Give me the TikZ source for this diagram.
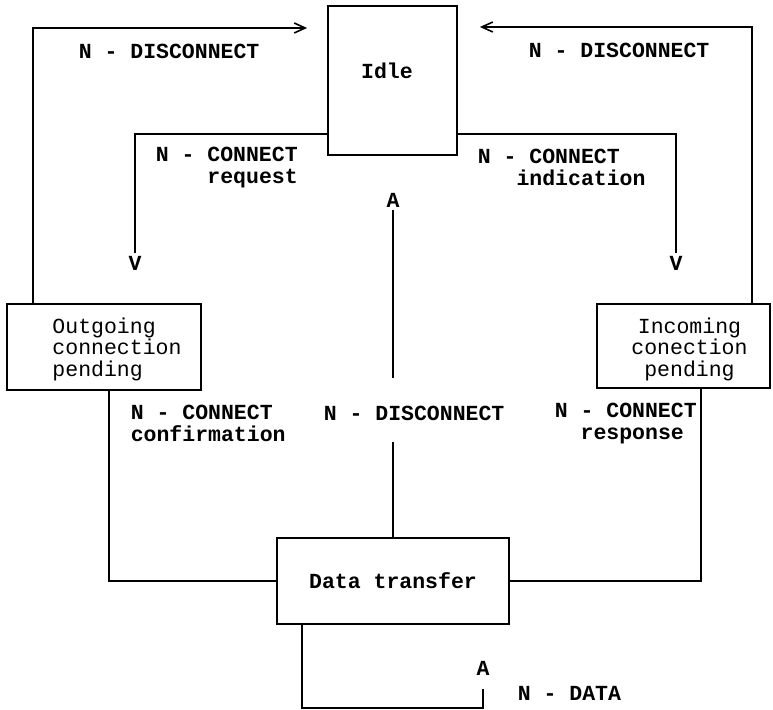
\documentclass[tikz,border=0pt]{standalone}
\usepackage{fontspec}
\setmonofont{Liberation Mono}
\usepackage{tikz}
\usetikzlibrary{arrows.meta,positioning,calc}

\begin{document}
\begin{tikzpicture}[x=0.5pt,y=-0.5pt,line width=0.8pt,
  font=\ttfamily\fontsize{10.75pt}{10.75pt}\selectfont,
  statebox/.style={draw,line width=0.9pt,inner sep=0pt},
  msg/.style={font=\ttfamily\bfseries\fontsize{10.75pt}{10.75pt}\selectfont,inner sep=0pt,align=left},
  head/.style={font=\ttfamily\bfseries\fontsize{10.75pt}{10.75pt}\selectfont,inner sep=1pt},
  tip/.style={-{Straight Barb[length=5.5pt,width=5pt]}}]
  \useasboundingbox (0,0) rectangle (773,710);

  \node[statebox,minimum width=64.5pt,minimum height=74.5pt,
    label={[msg,name=idletext,xshift=-2.75pt,yshift=4.75pt]center:Idle}] (idle) at (392.5,80.5) {};
  \node[statebox,minimum width=97pt,minimum height=43pt,
    label={[inner sep=0pt,align=left,name=outtext,xshift=6.5pt,yshift=-1pt]center:Outgoing\\connection\\pending}] (outgoing) at (104,347) {};
  \node[statebox,minimum width=86.5pt,minimum height=42pt,
    label={[inner sep=0pt,align=center,name=intext,xshift=3pt,yshift=-1.5pt]center:Incoming\\conection\\pending}] (incoming) at (683.5,346) {};
  \node[statebox,minimum width=116pt,minimum height=43pt,
    label={[msg,name=transtext]center:Data transfer}] (transfer) at (393,581) {};

  \node[head] (vreq) at (135,263) {V};
  \node[head] (vind) at (676,263) {V};
  \node[head] (adisc) at (393,200) {A};
  \node[head] (adata) at (483,668) {A};

  \node[msg,anchor=west] (discl) at (78,51) {N - DISCONNECT};
  \node[msg,anchor=west] (discr) at (528,50) {N - DISCONNECT};
  \node[msg,anchor=west] (connreq) at (155,167.5) {N - CONNECT\\\phantom{NNNN}request};
  \node[msg,anchor=west] (connind) at (477,167.5) {N - CONNECT\\\phantom{NNN}indication};
  \node[msg,anchor=west] (connconf) at (130,423.5) {N - CONNECT\\confirmation};
  \node[msg,anchor=west] (discmid) at (323,413) {N - DISCONNECT};
  \node[msg,anchor=west] (connresp) at (554,423.5) {N - CONNECT\\\phantom{NN}response};
  \node[msg,anchor=west] (data) at (517,693) {N - DATA};

  \coordinate (ltop) at (33,28);
  \coordinate (rtop) at (752,27);
  \coordinate (reqy) at (0,134);
  \coordinate (midtop) at (393,378);
  \coordinate (midbot) at (393,442);
  \coordinate (lconn) at (109,581);
  \coordinate (rconn) at (701,581);
  \coordinate (loopl) at (302,708);
  \coordinate (loopr) at (483,689);

  \draw[tip] (ltop |- outgoing.north) -- (ltop) -- ([xshift=-10pt]idle.west |- ltop);
  \draw[tip] (rtop |- incoming.north) -- (rtop) -- ([xshift=11pt]idle.east |- rtop);
  \draw (idle.west |- reqy) -| (vreq.north);
  \draw (idle.east |- reqy) -| (vind.north);
  \draw (midtop) -- (adisc.south);
  \draw (transfer.north) -- (midbot);
  \draw (lconn |- outgoing.south) -- (lconn) -- (transfer.west);
  \draw (rconn |- incoming.south) -- (rconn) -- (transfer.east);
  \draw (loopl |- transfer.south) -- (loopl) -| (loopr);
\end{tikzpicture}
\end{document}
